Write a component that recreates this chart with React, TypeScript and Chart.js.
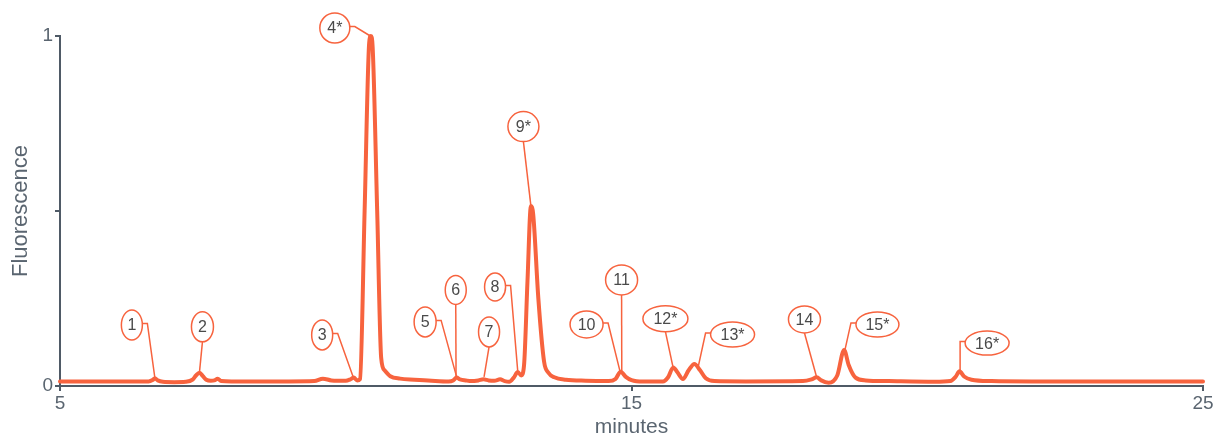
import React, { useEffect, useRef } from 'react';
import { Chart, registerables } from 'chart.js';

Chart.register(...registerables);

// ---- data ----
const times = [
  5.0, 6.0, 6.55, 6.62, 6.66, 6.71, 6.8, 7.0, 7.2, 7.32, 7.38, 7.44, 7.5, 7.56, 7.64, 7.7, 7.76, 7.82, 8.0,
  9.0, 9.45, 9.6, 9.75, 10.0, 10.08, 10.14, 10.2, 10.25, 10.33, 10.41, 10.44, 10.47, 10.55, 10.62, 10.68,
  10.78, 10.95, 11.2, 11.5, 11.8, 11.88, 11.94, 12.0, 12.1, 12.2, 12.32, 12.41, 12.5, 12.6, 12.7, 12.78,
  12.86, 12.94, 13.01, 13.07, 13.12, 13.18, 13.24, 13.28, 13.37, 13.47, 13.55, 13.65, 13.85, 14.2, 14.6,
  14.72, 14.81, 14.9, 15.0, 15.2, 15.55, 15.64, 15.73, 15.8, 15.9, 16.0, 16.1, 16.2, 16.3, 16.45, 17.0,
  18.0, 18.15, 18.24, 18.32, 18.45, 18.6, 18.72, 18.8, 18.92, 19.1, 19.5, 20.3, 20.58, 20.67, 20.74, 20.82,
  20.95, 21.3, 22.0, 25.0,
];
const fluorescence = [
  0.013, 0.013, 0.013, 0.017, 0.022, 0.016, 0.012, 0.011, 0.012, 0.018, 0.03, 0.038, 0.028, 0.018, 0.015, 0.016, 0.021, 0.014, 0.013,
  0.013, 0.014, 0.021, 0.016, 0.015, 0.019, 0.024, 0.016, 0.02, 0.5, 0.98, 1.0, 0.97, 0.5, 0.08, 0.045,
  0.028, 0.021, 0.018, 0.015, 0.013, 0.016, 0.024, 0.019, 0.016, 0.014, 0.016, 0.019, 0.016, 0.015, 0.019, 0.014,
  0.012, 0.024, 0.04, 0.03, 0.06, 0.3, 0.514, 0.49, 0.25, 0.07, 0.037, 0.025, 0.018, 0.015, 0.014,
  0.02, 0.041, 0.026, 0.017, 0.013, 0.013, 0.025, 0.053, 0.04, 0.02, 0.045, 0.063, 0.045, 0.022, 0.014, 0.013,
  0.014, 0.019, 0.025, 0.016, 0.009, 0.03, 0.103, 0.06, 0.024, 0.016, 0.014, 0.012, 0.014, 0.026, 0.042, 0.027,
  0.018, 0.014, 0.013, 0.013,
];
const xTicks = [5, 15, 25];
const yTicks = [0, 0.5, 1];
const yTickLabels = ['0', '', '1'];

const peakLabels = ['1', '2', '3', '4*', '5', '6', '7', '8', '9*', '10', '11', '12*', '13*', '14', '15*', '16*'];
const peakTimes = [6.66, 7.44, 10.13, 10.43, 11.94, 11.93, 12.42, 13.01, 13.24, 14.8, 14.83, 15.73, 16.17, 18.24, 18.735, 20.75];
const peakValues = [0.023, 0.039, 0.026, 1.0, 0.026, 0.026, 0.026, 0.041, 0.514, 0.041, 0.043, 0.051, 0.057, 0.025, 0.103, 0.044];

// ---- layout of the peak callouts (pixel offsets from the peak point) ----
const calloutLayout = [
  { dx: -23, dy: -53, w: 21, h: 30, exit: 'right' },
  { dx: 3, dy: -45.5, w: 22, h: 30, exit: 'bottom' },
  { dx: -31, dy: -42, w: 21, h: 30, exit: 'right' },
  { dx: -35.5, dy: -8, w: 30, h: 30, exit: 'right' },
  { dx: -31.5, dy: -55, w: 22, h: 30, exit: 'right' },
  { dx: -0.3, dy: -87, w: 21, h: 29, exit: 'bottom' },
  { dx: 5, dy: -45, w: 21, h: 30, exit: 'bottom' },
  { dx: -22.7, dy: -84.7, w: 21, h: 28, exit: 'right' },
  { dx: -7.5, dy: -79.5, w: 31, h: 30, exit: 'bottom' },
  { dx: -33.5, dy: -47.2, w: 33, h: 27, exit: 'right' },
  { dx: -0.2, dy: -91, w: 32, h: 30, exit: 'bottom' },
  { dx: -7.8, dy: -49.5, w: 45, h: 26, exit: 'bottom' },
  { dx: 34.2, dy: -31.5, w: 44, h: 25, exit: 'left' },
  { dx: -12.2, dy: -57.8, w: 32, h: 27, exit: 'bottom' },
  { dx: 32.5, dy: -25.5, w: 43, h: 25, exit: 'left' },
  { dx: 27, dy: -27.5, w: 44, h: 24, exit: 'left' },
];

const LINE = '#f7633e';
const AXIS = '#4f5a66';
const TEXT = '#5a6570';
const FONT = '"Liberation Sans", Arial, Helvetica, sans-serif';

const calloutPlugin = {
  id: 'peakCallouts',
  afterDatasetsDraw(chart: any) {
    const { ctx, scales } = chart;
    const xs = scales.x;
    const ys = scales.y;
    ctx.save();
    peakLabels.forEach((text, i) => {
      const px = xs.getPixelForValue(peakTimes[i]);
      const py = ys.getPixelForValue(peakValues[i]);
      const L = calloutLayout[i];
      const cx = px + L.dx;
      const cy = py + L.dy;
      const rx = L.w / 2;
      const ry = L.h / 2;
      ctx.strokeStyle = LINE;
      ctx.lineWidth = 1.5;
      ctx.beginPath();
      if (L.exit === 'right') {
        ctx.moveTo(cx + rx, cy - 1.5);
        ctx.lineTo(cx + rx + 5, cy - 1.5);
      } else if (L.exit === 'left') {
        ctx.moveTo(cx - rx, cy - 1.5);
        ctx.lineTo(cx - rx - 5, cy - 1.5);
      } else {
        ctx.moveTo(cx, cy + ry);
      }
      ctx.lineTo(px, py);
      ctx.stroke();
      ctx.beginPath();
      ctx.ellipse(cx, cy, rx, ry, 0, 0, Math.PI * 2);
      ctx.fillStyle = '#ffffff';
      ctx.fill();
      ctx.stroke();
      ctx.fillStyle = '#4a4a4a';
      ctx.font = `16px ${FONT}`;
      ctx.textAlign = 'center';
      ctx.textBaseline = 'middle';
      ctx.fillText(text, cx, cy + 1);
    });
    ctx.restore();
  },
};

export default function App() {
  const ref = useRef<HTMLCanvasElement | null>(null);

  useEffect(() => {
    if (!ref.current) return;
    const chart = new Chart(ref.current, {
      type: 'line',
      data: {
        datasets: [
          {
            data: times.map((t, i) => ({ x: t, y: fluorescence[i] })),
            borderColor: LINE,
            borderWidth: 4,
            pointRadius: 0,
            fill: false,
            cubicInterpolationMode: 'monotone',
            borderJoinStyle: 'round',
            borderCapStyle: 'round',
            clip: false as any,
          },
        ],
      },
      options: {
        animation: false,
        responsive: false,
        devicePixelRatio: 1,
        layout: { padding: { top: 36, right: 10, left: 0, bottom: 0 } },
        plugins: { legend: { display: false }, tooltip: { enabled: false }, title: { display: false } },
        scales: {
          x: {
            type: 'linear',
            min: 5,
            max: 25,
            afterBuildTicks: (s: any) => {
              s.ticks = xTicks.map((value) => ({ value }));
            },
            afterFit: (s: any) => {
              s.height = 51;
              s.paddingLeft = 0;
              s.paddingRight = 0;
            },
            ticks: {
              color: TEXT,
              font: { family: FONT, size: 19 },
              padding: 1,
              maxRotation: 0,
              autoSkip: false,
              callback: (v: any) => String(v),
            },
            grid: { display: true, drawOnChartArea: false, drawTicks: true, tickLength: 5, color: AXIS, lineWidth: 2 },
            border: { display: true, color: AXIS, width: 2 },
            title: {
              display: true,
              text: 'minutes',
              color: TEXT,
              font: { family: FONT, size: 21, lineHeight: 1 },
              padding: { top: 0, bottom: -1 },
            },
          },
          y: {
            type: 'linear',
            min: 0,
            max: 1,
            afterBuildTicks: (s: any) => {
              s.ticks = yTicks.map((value) => ({ value }));
            },
            afterFit: (s: any) => {
              s.width = 60;
              s.paddingTop = 0;
              s.paddingBottom = 0;
            },
            ticks: {
              color: TEXT,
              font: { family: FONT, size: 19 },
              padding: 2,
              autoSkip: false,
              callback: (_v: any, i: number) => yTickLabels[i],
            },
            grid: { display: true, drawOnChartArea: false, drawTicks: true, tickLength: 5, color: AXIS, lineWidth: 2 },
            border: { display: true, color: AXIS, width: 2 },
            title: {
              display: true,
              text: 'Fluorescence',
              color: TEXT,
              font: { family: FONT, size: 22, lineHeight: 1 },
              padding: { top: 10, bottom: 0 },
            },
          },
        },
      },
      plugins: [calloutPlugin],
    } as any);
    return () => chart.destroy();
  }, []);

  return (
    <div style={{ position: 'absolute', left: 0, top: 0, width: 1213, height: 437, background: '#fff' }}>
      <canvas ref={ref} width={1213} height={437} style={{ width: 1213, height: 437, display: 'block' }} />
    </div>
  );
}
